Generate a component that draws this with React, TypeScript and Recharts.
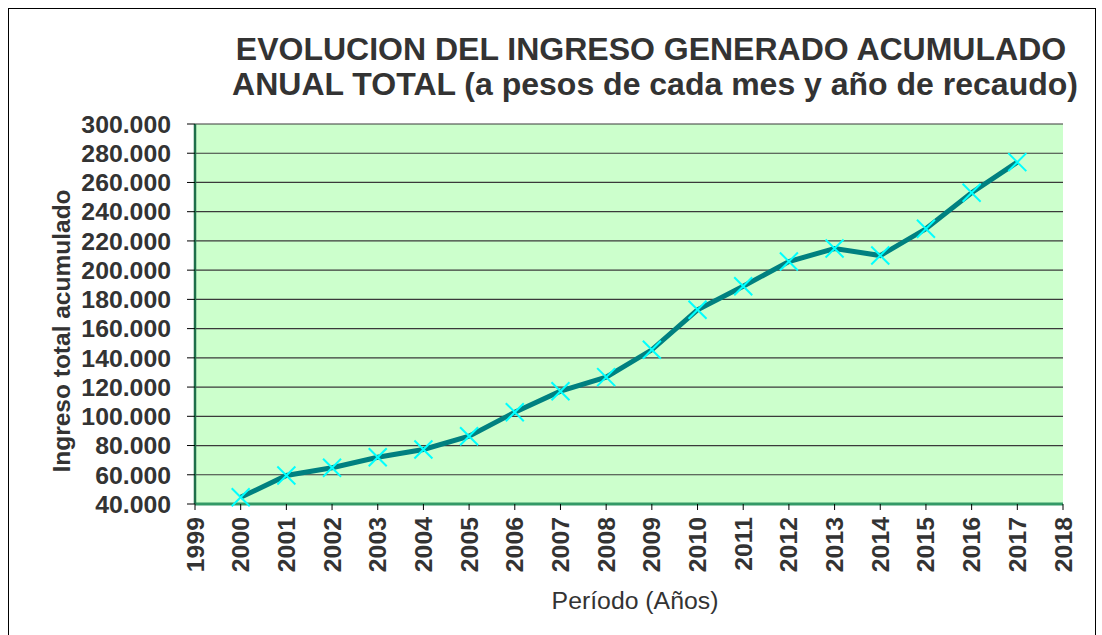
import React from 'react';
import { LineChart, Line, XAxis, YAxis, CartesianGrid } from 'recharts';

const years = [2000, 2001, 2002, 2003, 2004, 2005, 2006, 2007, 2008, 2009, 2010, 2011, 2012, 2013, 2014, 2015, 2016, 2017];
const ingreso = [44600, 59500, 64800, 72000, 77300, 86400, 102800, 117200, 126800, 145500, 172900, 189000, 205900, 214800, 210000, 228300, 253000, 273900];
const xTicks = [1999, 2000, 2001, 2002, 2003, 2004, 2005, 2006, 2007, 2008, 2009, 2010, 2011, 2012, 2013, 2014, 2015, 2016, 2017, 2018];
const yTicks = [40000, 60000, 80000, 100000, 120000, 140000, 160000, 180000, 200000, 220000, 240000, 260000, 280000, 300000];
const titleLines = ['EVOLUCION DEL INGRESO GENERADO ACUMULADO', 'ANUAL TOTAL (a pesos de cada mes y año de recaudo)'];
const yLabel = 'Ingreso total acumulado';
const xLabel = 'Período (Años)';

const data = years.map((y, i) => ({ year: y, value: ingreso[i] }));

const FONT = '"Liberation Sans", Arial, sans-serif';
const TEXT = '#333333';
const GREEN = '#339966';

const fmt = (v: number) => String(v).replace(/\B(?=(\d{3})+(?!\d))/g, '.');

const XTick = (props: any) => {
  const { x, y, payload } = props;
  return (
    <text
      x={x}
      y={y}
      transform={`rotate(-90, ${x}, ${y})`}
      textAnchor="end"
      dominantBaseline="central"
      fontFamily={FONT}
      fontWeight="bold"
      fontSize={24.8}
      fill={TEXT}
    >
      {payload.value}
    </text>
  );
};

const XMark = (props: any) => {
  const { cx, cy, index } = props;
  if (cx == null || cy == null) return <g key={index} />;
  const s = 9;
  return (
    <g key={index}>
      <line x1={cx - s} y1={cy - s} x2={cx + s} y2={cy + s} stroke="#00FFFF" strokeWidth={2} />
      <line x1={cx - s} y1={cy + s} x2={cx + s} y2={cy - s} stroke="#00FFFF" strokeWidth={2} />
    </g>
  );
};

export default function App() {
  return (
    <div style={{ position: 'absolute', left: 0, top: 0, width: 1102, height: 635, overflow: 'hidden', background: '#fff' }}>
      <div style={{ position: 'absolute', left: 8, top: 8, width: 1088, height: 700, border: '1px solid #000', boxSizing: 'border-box' }} />
      <div style={{ position: 'absolute', left: 0, top: 0 }}>
        <LineChart width={1102} height={635} data={data} margin={{ top: 124, right: 39, bottom: 0, left: 0 }}>
          <CartesianGrid fill="#CCFFCC" vertical={false} stroke="#3a3a3a" strokeWidth={1.2} />
          <XAxis
            dataKey="year"
            type="number"
            domain={[1999, 2018]}
            ticks={xTicks}
            interval={0}
            height={131}
            tickSize={6}
            tickMargin={7}
            tick={<XTick />}
            axisLine={{ stroke: GREEN, strokeWidth: 3 }}
            tickLine={{ stroke: '#000' }}
          />
          <XAxis
            xAxisId="top"
            orientation="top"
            type="number"
            domain={[1999, 2018]}
            height={0}
            tick={false}
            tickLine={false}
            axisLine={{ stroke: GREEN, strokeWidth: 2 }}
          />
          <YAxis
            type="number"
            domain={[40000, 300000]}
            ticks={yTicks}
            interval={0}
            width={195}
            tickSize={8}
            tickMargin={16}
            tickFormatter={fmt}
            tick={{ fontFamily: FONT, fontWeight: 'bold', fontSize: 24.8, fill: TEXT }}
            axisLine={{ stroke: '#1f6f4a', strokeWidth: 2.5 }}
            tickLine={{ stroke: '#000' }}
          />
          <YAxis
            yAxisId="right"
            orientation="right"
            type="number"
            domain={[40000, 300000]}
            width={0}
            tick={false}
            tickLine={false}
            axisLine={{ stroke: GREEN, strokeWidth: 2.5 }}
          />
          <Line
            type="linear"
            dataKey="value"
            stroke="#008080"
            strokeWidth={5}
            dot={<XMark />}
            activeDot={false}
            isAnimationActive={false}
          />
        </LineChart>
      </div>
      <svg width={1102} height={635} style={{ position: 'absolute', left: 0, top: 0, pointerEvents: 'none' }}>
        <text x={651} y={60} textAnchor="middle" fontFamily={FONT} fontWeight="bold" fontSize={32} fill={TEXT}>
          {titleLines[0]}
        </text>
        <text x={655} y={95} textAnchor="middle" fontFamily={FONT} fontWeight="bold" fontSize={32} fill={TEXT}>
          {titleLines[1]}
        </text>
        <text
          x={61}
          y={331}
          transform="rotate(-90, 61, 331)"
          textAnchor="middle"
          dominantBaseline="central"
          fontFamily={FONT}
          fontWeight="bold"
          fontSize={24.5}
          fill={TEXT}
        >
          {yLabel}
        </text>
        <text x={635} y={609} textAnchor="middle" fontFamily={FONT} fontSize={24.8} fill={TEXT}>
          {xLabel}
        </text>
      </svg>
    </div>
  );
}
